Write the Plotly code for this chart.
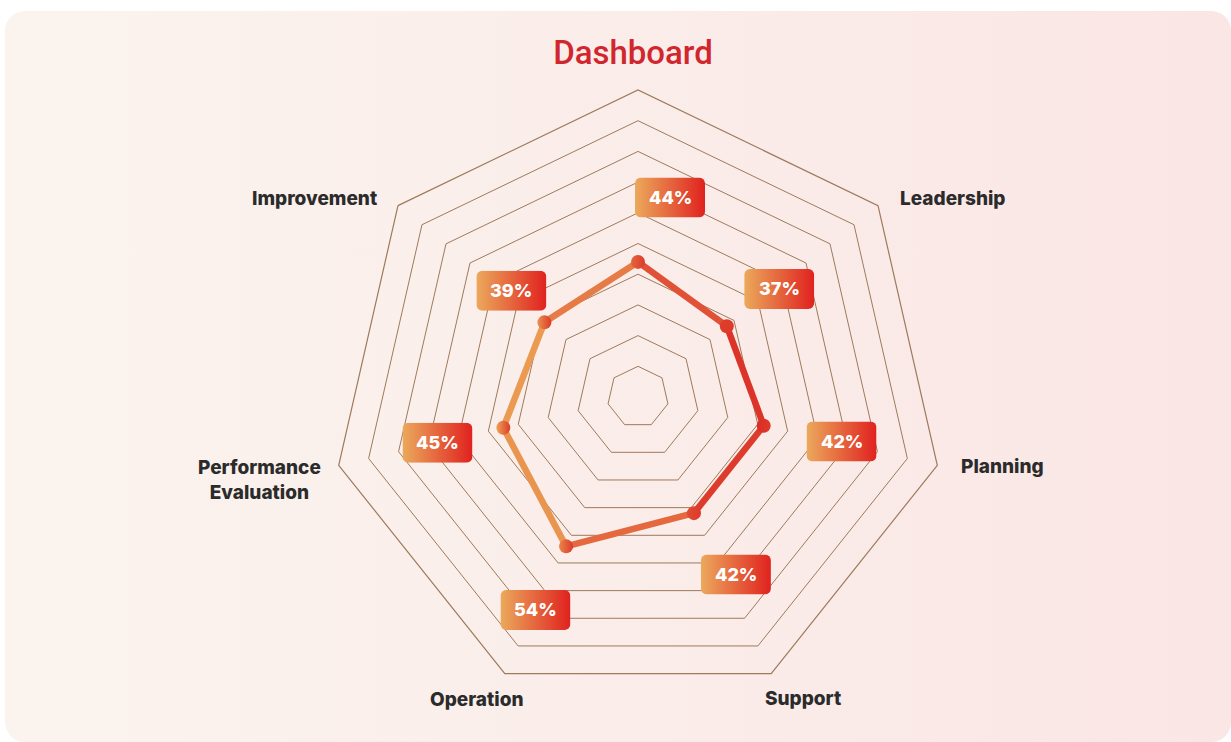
import base64
import math
import plotly.graph_objects as go

# ---- data ----
categories = ["", "Leadership", "Planning", "Support", "Operation",
              "Performance Evaluation", "Improvement"]
label_text = ["", "Leadership", "Planning", "Support", "Operation",
              "Performance<br>Evaluation", "Improvement"]
values = [44, 37, 42, 42, 54, 45, 39]
value_labels = ["44%", "37%", "42%", "42%", "54%", "45%", "39%"]

W, H = 1231, 742
CX, CY, R = 638, 397, 307          # polar centre / radius in px
ORANGE = (236, 166, 86)
RED = (219, 42, 37)


def mix(t):
    t = max(0.0, min(1.0, t))
    c = [round(a + (b - a) * t) for a, b in zip(ORANGE, RED)]
    return "rgb(%d,%d,%d)" % tuple(c)


def ang(i):
    # clockwise from top
    return math.radians(90 - i * 360 / len(categories))


def px(i, r):
    a = ang(i)
    return CX + r * math.cos(a), CY - r * math.sin(a)


def grad_uri(w, h, rx, c0, c1):
    svg = (
        f"<svg xmlns='http://www.w3.org/2000/svg' width='{w}' height='{h}' viewBox='0 0 {w} {h}'>"
        f"<defs><linearGradient id='g' x1='0' x2='1' y1='0' y2='0'>"
        f"<stop offset='0' stop-color='{c0}'/><stop offset='1' stop-color='{c1}'/>"
        f"</linearGradient></defs>"
        f"<rect width='{w}' height='{h}' rx='{rx}' ry='{rx}' fill='url(#g)'/></svg>"
    )
    return "data:image/svg+xml;base64," + base64.b64encode(svg.encode()).decode()


fig = go.Figure()

# line segments, coloured left->right like the gradient stroke
n = len(categories)
for i in range(n):
    j = (i + 1) % n
    x0, _ = px(i, values[i] * R / 100)
    x1, _ = px(j, values[j] * R / 100)
    t = ((x0 + x1) / 2 - (CX - 140)) / 270
    fig.add_trace(go.Scatterpolar(
        r=[values[i], values[j]],
        theta=[categories[i], categories[j]],
        mode="lines",
        line=dict(color=mix(t), width=6.5),
        hoverinfo="skip",
        showlegend=False,
    ))

marker_colors = [mix((px(i, v * R / 100)[0] - (CX - 140)) / 270) for i, v in enumerate(values)]
fig.add_trace(go.Scatterpolar(
    r=values,
    theta=categories,
    mode="markers",
    marker=dict(size=14, color=marker_colors,
                gradient=dict(type="horizontal", color="#DD3A2A")),
    showlegend=False,
))

# value boxes
label_gap = [21, 21, 26, 24, 23, 22, 15]
box_xshift = [32, 2, 0, 10, 0, 0, 3]
box_yshift = [0, 3, -2, -5, 0, 0, -3]
box_img = grad_uri(70, 40, 6, "#EBA95C", "#E0221F")
images = [dict(
    source=grad_uri(W - 5, H - 11, 20, "#FBF4EE", "#FAE6E5"),
    xref="paper", yref="paper", x=5 / W, y=1 - 11 / H,
    sizex=(W - 5) / W, sizey=(H - 11) / H,
    xanchor="left", yanchor="top", sizing="stretch", layer="below",
)]
annotations = []
for i, v in enumerate(values):
    bx, by = px(i, (v + label_gap[i]) * R / 100)
    bx += box_xshift[i]
    by += box_yshift[i]
    images.append(dict(
        source=box_img, xref="paper", yref="paper",
        x=bx / W, y=1 - by / H, sizex=70 / W, sizey=40 / H,
        xanchor="center", yanchor="middle", sizing="stretch", layer="above",
    ))
    annotations.append(dict(
        x=bx / W, y=1 - by / H, xref="paper", yref="paper",
        xanchor="center", yanchor="middle",
        text=value_labels[i], showarrow=False,
        font=dict(family="Inter", size=18, color="white", weight=800),
    ))

# axis labels outside the outer heptagon
lab_anchor = ["center", "left", "left", "center", "center", "right", "right"]
lab_shift = [(0, 0), (20, 7), (22, -1), (32, -25), (-28, -26), (-16, -15), (-19, 7)]
for i, txt in enumerate(label_text):
    if not txt:
        continue
    vx, vy = px(i, R)
    annotations.append(dict(
        x=vx / W, y=1 - vy / H, xref="paper", yref="paper",
        text=txt, showarrow=False, align="center",
        xanchor=lab_anchor[i], yanchor="middle",
        xshift=lab_shift[i][0], yshift=lab_shift[i][1],
        font=dict(family="Inter", size=19, color="#2B2B2B", weight=800),
    ))

fig.update_layout(
    width=W,
    height=H,
    autosize=False,
    margin=dict(l=0, r=0, t=0, b=0),
    paper_bgcolor="white",
    plot_bgcolor="rgba(0,0,0,0)",
    title=dict(
        text="Dashboard", x=633 / W, y=1 - 52 / H,
        xanchor="center", yanchor="middle",
        font=dict(family="Roboto", size=33, color="#D2262E", weight=500),
    ),
    polar=dict(
        domain=dict(x=[(CX - R) / W, (CX + R) / W],
                    y=[(H - CY - R) / H, (H - CY + R) / H]),
        bgcolor="rgba(0,0,0,0)",
        gridshape="linear",
        angularaxis=dict(
            rotation=90, direction="clockwise",
            categoryorder="array", categoryarray=categories,
            showticklabels=False, ticks="", showgrid=False,
            showline=True, linecolor="#9E7A5C", linewidth=1.2,
        ),
        radialaxis=dict(
            range=[0, 100], dtick=10, showticklabels=False, ticks="",
            showline=False, gridcolor="#9E7A5C", gridwidth=1.2,
        ),
    ),
    images=images,
    annotations=annotations,
)

fig.write_html("out.html", config={"displayModeBar": False},
               post_script="document.body.style.margin='0';")
